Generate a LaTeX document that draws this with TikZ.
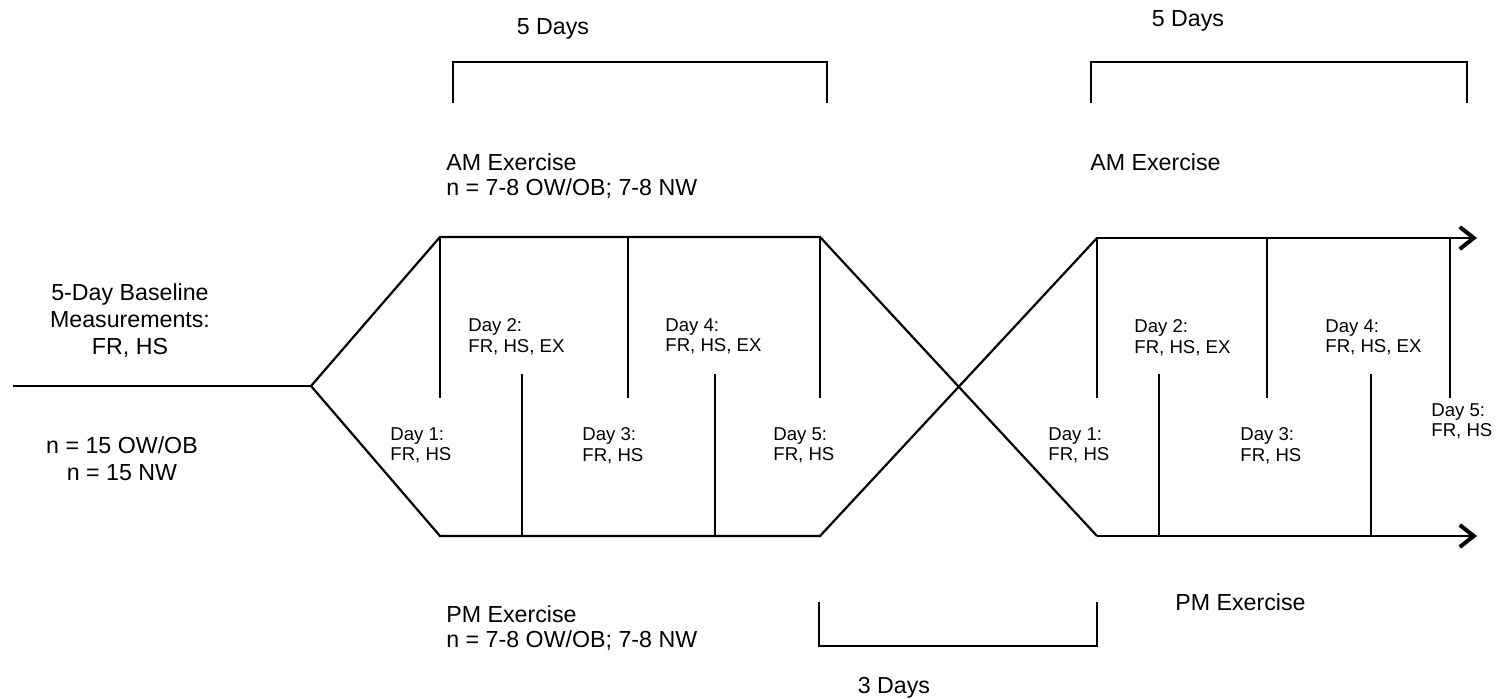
\documentclass[tikz,border=0pt]{standalone}
\usepackage{fontspec}
\setmainfont{Liberation Sans}
\usetikzlibrary{arrows.meta}
\begin{document}
\begin{tikzpicture}[x=0.5pt,y=-0.5pt,
  every node/.style={inner sep=0pt,font=\fontsize{11.6}{12.6}\selectfont},
  daylbl/.style={anchor=north west,align=left,font=\fontsize{9.3}{10.4}\selectfont},
  grplbl/.style={anchor=north west,align=left},
  midlbl/.style={anchor=north,align=center},
  widelbl/.style={midlbl,font=\fontsize{11.6}{13.6}\selectfont},
  track/.style={line width=1.1pt,line join=miter},
  brace/.style={line width=1.1pt},
  flow/.style={track,-{Straight Barb[length=7pt,width=11pt,line width=2pt]}}]
\useasboundingbox (0,0) rectangle (1498,699);
% baseline and split
\coordinate (start) at (13,386); \coordinate (split) at (311,386);
\coordinate (amA) at (440,237); \coordinate (amB) at (820,237);
\coordinate (pmA) at (440,536); \coordinate (pmB) at (820,536);
\coordinate (amC) at (1097,238); \coordinate (pmC) at (1097,536);
\coordinate (amEnd) at (1477,238); \coordinate (pmEnd) at (1477,536);
\draw[track] (start) -- (split);
\draw[track] (split) -- (amA) -- (amB) -- (pmC);
\draw[track] (split) -- (pmA) -- (pmB) -- (amC);
\draw[flow] (amC) -- (amEnd); \draw[flow] (pmC) -- (pmEnd);
% day ticks
\foreach \x in {440,628,820,1097,1267,1450} \draw[track] (\x,237) -- (\x,398);
\foreach \x in {522,715,1159,1371} \draw[track] (\x,536) -- (\x,374);
% brackets
\draw[brace] (453,103) |- (827,62) -- (827,103);
\draw[brace] (1091,103) |- (1467,62) -- (1467,103);
\draw[brace] (819,602) |- (1097,646) -- (1097,602);
\node[midlbl] (days1) at (553,18) {5 Days};
\node[midlbl] (days2) at (1188,10) {5 Days};
\node[midlbl] (days3) at (894,677) {3 Days};
% group labels
\node[widelbl] (base) at (130,283) {5-Day Baseline\\Measurements:\\FR, HS};
\node[widelbl] (nall) at (122,436) {n = 15 OW/OB\\n = 15 NW};
\node[grplbl] (am1) at (446,153) {AM Exercise\\n = 7-8 OW/OB; 7-8 NW};
\node[grplbl] (pm1) at (446,605) {PM Exercise\\n = 7-8 OW/OB; 7-8 NW};
\node[grplbl] (am2) at (1090,153) {AM Exercise};
\node[grplbl] (pm2) at (1175,593) {PM Exercise};
% day labels
\node[daylbl] (d1a) at (390,427) {Day 1:\\FR, HS};
\node[daylbl] (d2a) at (468,318) {Day 2:\\FR, HS, EX};
\node[daylbl] (d3a) at (582,427) {Day 3:\\FR, HS};
\node[daylbl] (d4a) at (665,318) {Day 4:\\FR, HS, EX};
\node[daylbl] (d5a) at (773,427) {Day 5:\\FR, HS};
\node[daylbl] (d1b) at (1048,427) {Day 1:\\FR, HS};
\node[daylbl] (d2b) at (1134,319) {Day 2:\\FR, HS, EX};
\node[daylbl] (d3b) at (1240,427) {Day 3:\\FR, HS};
\node[daylbl] (d4b) at (1325,319) {Day 4:\\FR, HS, EX};
\node[daylbl] (d5b) at (1431,403) {Day 5:\\FR, HS};
\end{tikzpicture}
\end{document}
